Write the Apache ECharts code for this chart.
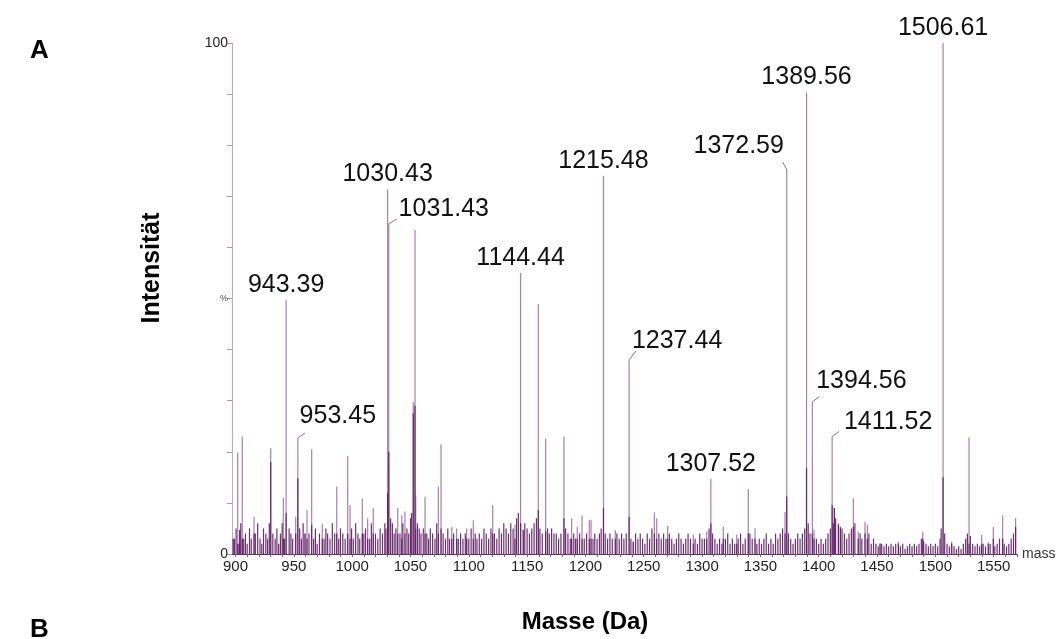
<!DOCTYPE html>
<html>
<head>
<meta charset="utf-8">
<script src="https://cdn.jsdelivr.net/npm/echarts@6/dist/echarts.min.js"></script>
<style>
    html, body { margin: 0; padding: 0; background: #fff; }
    #spectrum { width: 1059px; height: 639px; }
</style>
</head>
<body>
<div id="spectrum"></div>
<script>
    // beschriftete Peaks (m/z, Intensität %, dunkler Sockel %)
    const labeledMass = [943.39, 953.45, 1030.43, 1031.43, 1144.44, 1215.48, 1237.44, 1307.52, 1372.59, 1389.56, 1394.56, 1411.52, 1506.61]
    const labeledHeight = [49.7, 22.7, 71.4, 64.6, 55, 74, 38, 14.7, 75.3, 90.3, 29.8, 23, 100]
    const labeledCore = [8, 14.8, 12, 20, 6, 9, 7.3, 6, 11.2, 16.8, 4, 9.6, 15]

    // weitere sichtbare Peaks ohne Beschriftung
    const otherMass = [899, 901.9, 903.6, 905.8, 915.9, 930.2, 941, 951.6, 959.6, 961.3, 965.3, 974.4, 986.8, 996.2, 998.2,
        1008.7, 1013.3, 1018.1, 1039.1, 1042.5, 1045.3, 1052.4, 1053.9, 1054.5, 1062.5, 1073.9, 1076.2, 1085.4, 1089.6, 1098.2,
        1103.9, 1120.5, 1139.6, 1146.7, 1159.6, 1165.9, 1181.6, 1188.2, 1193, 1197.1, 1203.3, 1204.8, 1225.6, 1241, 1259.1,
        1261.1, 1270.5, 1292.5, 1304, 1318.2, 1329.7, 1339.6, 1345.4, 1371.1, 1396, 1413.4, 1416.9, 1418.6, 1429.7, 1433.9,
        1439.7, 1441.7, 1452.6, 1468.3, 1489.2, 1514, 1528.9, 1539.7, 1545.4, 1549.7, 1557.7, 1568.8]
    const otherHeight = [3, 19.8, 4.7, 23, 7.3, 20.7, 11, 7.3, 4, 8.6, 20.5, 5.9, 13.2, 19.2, 9.6,
        10.8, 7, 9, 9, 7.6, 8.3, 29.8, 63.4, 11.5, 11.2, 13.2, 21.5, 5.3, 5, 5,
        6.6, 9.6, 5.7, 4.7, 48.9, 22.6, 23, 7, 5.3, 7.6, 6.6, 6.7, 4.7, 2.4, 8.1,
        7, 5.5, 3.8, 4.4, 5.3, 3.8, 12.7, 5, 8.2, 4.8, 9, 5.9, 5.3, 10.9, 4.4,
        6.3, 5.7, 2.1, 2.4, 4.4, 2.4, 22.8, 3.7, 2.3, 5.3, 7.6, 7]
    const otherCore = [3, 2, 4.7, 3, 4, 18, 3, 4, 4, 3, 5.7, 3, 4, 4, 3,
        4, 3, 4, 4, 3, 4, 27.6, 29, 5, 4, 4, 5, 3, 3, 3,
        3, 4, 3, 4.7, 8.6, 4.4, 7, 3, 3, 3, 3, 3, 3, 2.4, 4,
        3, 3, 2, 3, 3, 2, 4, 3, 4, 3, 9, 5.9, 5.3, 5.3, 3,
        4, 3, 2, 2, 3, 2, 2, 2, 2, 3, 3, 5.3]

    // Grundrauschen
    const noiseMass = [898, 900.5, 903, 904.5, 907, 908.5, 910, 912, 913.5, 917,
        919, 921, 922.5, 924, 926, 927.5, 929, 932, 934, 935.5,
        937, 938.5, 940, 942, 946, 947.5, 949, 955, 956.5, 958,
        963, 967, 968.5, 970, 972, 976, 977.5, 979, 981, 983,
        985, 988.5, 990, 992, 994, 999.5, 1001, 1003, 1005, 1006.5,
        1010, 1011.5, 1015, 1016.5, 1020, 1022, 1024, 1026, 1028, 1029,
        1033, 1034.5, 1036, 1037.5, 1041, 1043.5, 1047, 1048.5, 1050, 1051,
        1056, 1057.5, 1059, 1061, 1064, 1065.5, 1067, 1069, 1071, 1072.5,
        1078, 1080, 1082, 1083.5, 1087, 1091, 1093, 1095, 1097, 1100,
        1102, 1105.5, 1107, 1109, 1111, 1113, 1115, 1117, 1119, 1122,
        1124, 1126, 1128, 1130, 1132, 1134, 1136, 1138, 1141, 1142.5,
        1148, 1150, 1152, 1154, 1156, 1158, 1161, 1163, 1167.5, 1169,
        1171, 1173, 1175, 1177, 1179, 1183, 1185, 1187, 1190, 1191.5,
        1195, 1199, 1201, 1206.5, 1208, 1210, 1212, 1213.5, 1217, 1219,
        1221, 1223, 1227, 1229, 1231, 1233, 1235, 1239, 1243, 1245,
        1247, 1249, 1251, 1253, 1255, 1257, 1263, 1265, 1267, 1269,
        1272, 1274, 1276, 1278, 1280, 1282, 1284, 1286, 1288, 1290,
        1294, 1296, 1298, 1300, 1302, 1306, 1309, 1311, 1313, 1315,
        1317, 1320, 1322, 1324, 1326, 1328, 1331, 1333, 1335, 1337,
        1341, 1343, 1347, 1349, 1351, 1353, 1355, 1357, 1359, 1361,
        1363, 1365, 1367, 1369, 1374, 1376, 1378, 1380, 1382, 1384,
        1386, 1388, 1391, 1392.5, 1398, 1400, 1402, 1404, 1406, 1408,
        1410, 1412.5, 1414.5, 1420, 1422, 1424, 1426, 1428, 1431, 1435.5,
        1437, 1443, 1445, 1447, 1449, 1451, 1454, 1456, 1458, 1460,
        1462, 1464, 1466, 1470, 1472, 1474, 1476, 1478, 1480, 1482,
        1484, 1486, 1488, 1490, 1492, 1494, 1496, 1498, 1500, 1502,
        1504, 1505, 1508, 1510, 1512, 1516, 1518, 1520, 1522, 1524,
        1526, 1527.5, 1530, 1532, 1534, 1536, 1538, 1541, 1543, 1547,
        1551, 1553, 1555, 1559, 1561, 1563, 1565, 1567]
    const noiseHeight = [3, 5, 2, 6, 3, 4, 2, 5, 3, 4,
        6, 3, 2, 5, 4, 3, 6, 4, 3, 5,
        2, 4, 6, 3, 5, 4, 3, 5, 3, 6,
        4, 3, 5, 2, 4, 3, 5, 4, 3, 6,
        4, 3, 5, 4, 3, 5, 3, 6, 4, 3,
        4, 5, 3, 6, 4, 3, 5, 4, 6, 5,
        7, 6, 4, 5, 4, 6, 5, 4, 7, 8,
        6, 5, 4, 5, 4, 3, 5, 4, 3, 6,
        4, 3, 5, 3, 4, 3, 4, 3, 4, 3,
        5, 4, 3, 4, 3, 5, 4, 3, 5, 4,
        3, 5, 4, 6, 5, 4, 6, 5, 7, 8,
        6, 5, 4, 5, 6, 7, 5, 4, 5, 4,
        5, 4, 4, 3, 4, 5, 4, 3, 4, 3,
        4, 3, 4, 3, 4, 3, 4, 5, 4, 3,
        4, 3, 4, 3, 4, 3, 4, 3, 4, 3,
        4, 3, 2, 4, 3, 5, 4, 3, 4, 3,
        4, 3, 2, 3, 4, 3, 2, 3, 4, 3,
        3, 2, 4, 3, 3, 5, 4, 3, 2, 3,
        2, 3, 4, 2, 3, 2, 3, 4, 2, 3,
        4, 3, 2, 3, 2, 3, 4, 2, 3, 2,
        4, 3, 4, 5, 4, 3, 2, 3, 4, 3,
        4, 5, 6, 4, 3, 2, 3, 2, 3, 4,
        5, 6, 7, 5, 4, 3, 4, 5, 6, 4,
        3, 4, 2, 3, 2, 1.5, 2, 1.5, 2, 1.5,
        2, 1.5, 2, 1.5, 2, 1, 1.5, 2, 1.5, 2,
        1.5, 2, 3, 2.5, 2, 1.5, 2, 1.5, 2, 1.5,
        3, 5, 4, 2, 1.5, 1.5, 1, 1.5, 1, 2,
        3, 4, 3.5, 2, 1.5, 2, 1.5, 2, 1.5, 2,
        1.5, 2, 3, 2, 1.5, 2, 3, 4]

    const massTicks = [900, 950, 1000, 1050, 1100, 1150, 1200, 1250, 1300, 1350, 1400, 1450, 1500, 1550]

    // Textlage der Beschriftung relativ zur Peakspitze: [dx, dy, Hilfslinie x, Hilfslinie y]
    const labelLayout = {
        '953.45': [40, -22, 7, -5],
        '1031.43': [55, -15, 8, -5],
        '1237.44': [48, -19, 7, -9],
        '1372.59': [-48, -23, -4, -7],
        '1394.56': [49, -21, 7, -5],
        '1411.52': [56, -14, 7, -5]
    }

    const lightColor = '#a680ae'
    const darkColor = 'rgba(92, 26, 96, 0.9)'

    function stickSeries(masses, heights, color, width) {
        return {
            type: 'custom',
            clip: true,
            silent: true,
            data: masses.map((m, i) => [m, heights[i]]),
            encode: { x: 0, y: 1 },
            renderItem: function (params, api) {
                let base = api.coord([api.value(0), 0])
                let top = api.coord([api.value(0), api.value(1)])
                return {
                    type: 'line',
                    shape: { x1: base[0], y1: base[1], x2: base[0], y2: top[1] },
                    style: { stroke: color, lineWidth: width }
                }
            }
        }
    }

    let myChart = echarts.init(document.getElementById('spectrum'))

    let minorTicks = []
    for (let t = 900; t <= 1570; t += 10) minorTicks.push(t)

    let option = {
        animation: false,
        backgroundColor: '#fff',
        textStyle: { fontFamily: 'Liberation Sans, Arial, sans-serif' },
        grid: { left: 232, right: 42, top: 43, bottom: 85 },
        xAxis: {
            type: 'value',
            min: 897,
            max: 1570,
            name: 'mass',
            nameLocation: 'end',
            nameGap: 5,
            nameTextStyle: { fontSize: 14, color: '#333', padding: [8, 0, 0, 0] },
            axisLine: { lineStyle: { color: '#6a2a6e', width: 1 } },
            axisTick: { customValues: minorTicks, length: 3, lineStyle: { color: '#8a5a90' } },
            axisLabel: {
                customValues: massTicks, fontSize: 15, color: '#222', margin: 5,
                formatter: function (v) { return String(v) }
            },
            splitLine: { show: false }
        },
        yAxis: {
            type: 'value',
            min: 0,
            max: 100,
            interval: 10,
            axisLine: { show: true, lineStyle: { color: '#c7a2cd', width: 1 } },
            axisTick: { show: true, length: 5, lineStyle: { color: '#b58fbc' } },
            axisLabel: {
                fontSize: 14,
                color: '#222',
                margin: 4,
                formatter: function (v) {
                    if (v === 0) return '0'
                    if (v === 50) return '{p|%}'
                    if (v === 100) return '100'
                    return ''
                },
                rich: { p: { fontSize: 9, color: '#444' } }
            },
            splitLine: { show: false }
        },
        graphic: [
            { type: 'text', left: 30, top: 38, style: { text: 'A', fontSize: 26, fontWeight: 'bold', fill: '#000', fontFamily: 'Liberation Sans, Arial, sans-serif' } },
            { type: 'text', left: 30, top: 617, style: { text: 'B', fontSize: 26, fontWeight: 'bold', fill: '#000', fontFamily: 'Liberation Sans, Arial, sans-serif' } },
            {
                type: 'text', x: 152, y: 268, rotation: Math.PI / 2,
                style: { text: 'Intensität', fontSize: 25, fontWeight: 'bold', fill: '#000', align: 'center', verticalAlign: 'middle', fontFamily: 'Liberation Sans, Arial, sans-serif' }
            },
            {
                type: 'text', x: 585, y: 622,
                style: { text: 'Masse (Da)', fontSize: 24, fontWeight: 'bold', fill: '#000', align: 'center', verticalAlign: 'middle', fontFamily: 'Liberation Sans, Arial, sans-serif' }
            }
        ],
        series: [
            stickSeries(otherMass, otherHeight, lightColor, 1.2),
            stickSeries(labeledMass, labeledHeight, lightColor, 1.2),
            stickSeries(noiseMass, noiseHeight, darkColor, 1.2),
            stickSeries(otherMass, otherCore, darkColor, 1.2),
            stickSeries(labeledMass, labeledCore, darkColor, 1.2),
            {
                type: 'custom',
                clip: false,
                silent: true,
                data: labeledMass.map((m, i) => [m, labeledHeight[i]]),
                encode: { x: 0, y: 1 },
                renderItem: function (params, api) {
                    let txt = api.value(0).toFixed(2)
                    let top = api.coord([api.value(0), api.value(1)])
                    let lay = labelLayout[txt] || [0, -15]
                    let children = [{
                        type: 'text',
                        x: top[0] + lay[0],
                        y: top[1] + lay[1],
                        style: {
                            text: txt, fontSize: 25, fill: '#111', align: 'center', verticalAlign: 'middle',
                            fontFamily: 'Liberation Sans, Arial, sans-serif'
                        }
                    }]
                    if (lay.length > 2) {
                        children.push({
                            type: 'line',
                            shape: { x1: top[0], y1: top[1], x2: top[0] + lay[2], y2: top[1] + lay[3] },
                            style: { stroke: '#777', lineWidth: 1 }
                        })
                    }
                    return { type: 'group', children: children }
                }
            }
        ]
    }

    myChart.setOption(option)
</script>
</body>
</html>
